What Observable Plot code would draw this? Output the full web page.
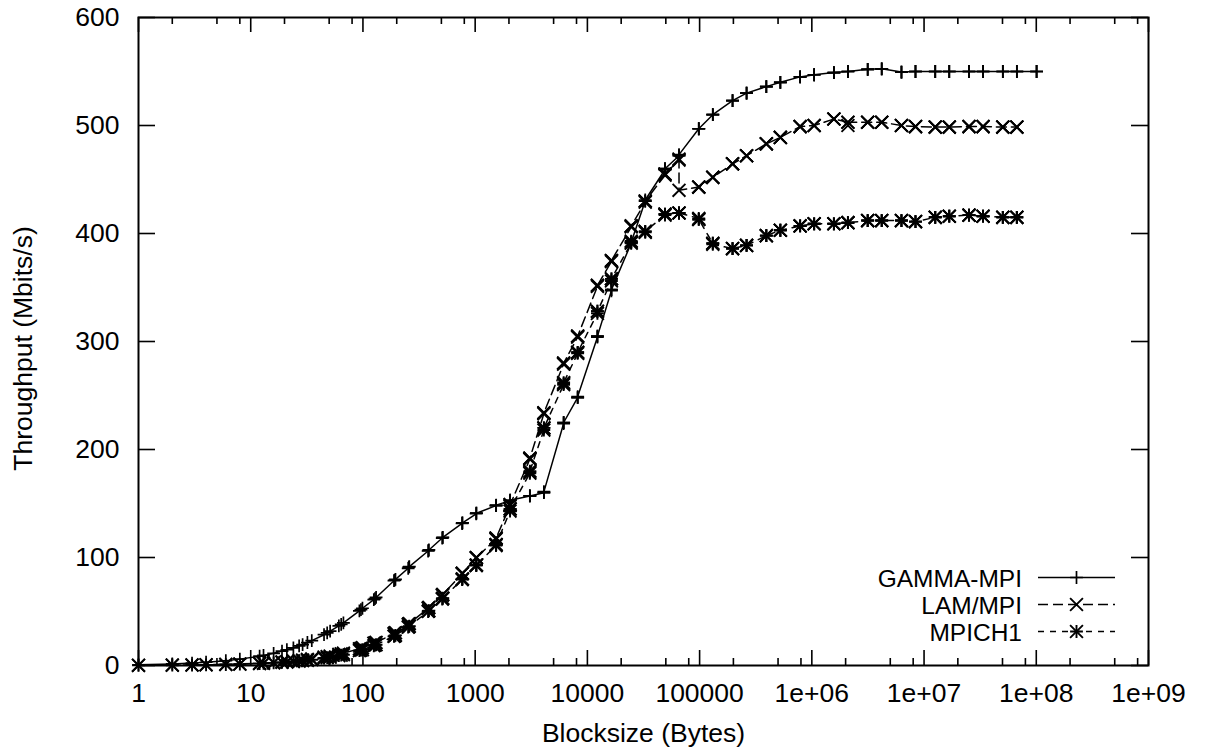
<!DOCTYPE html>
<html><head><meta charset="utf-8">
<script src="https://cdn.jsdelivr.net/npm/d3@7"></script>
<script src="https://cdn.jsdelivr.net/npm/@observablehq/plot@0.6"></script>
<style>
html,body{margin:0;padding:0;background:#fff;}
#chart svg{display:block;}
</style>
</head><body><div id="chart"></div>
<script>
// Block sizes (bytes), NetPIPE-style sequence
const blocksizes = [
  1, 2, 3, 4, 6, 8,
  12, 13, 16, 19, 21, 24, 27, 29, 32, 35,
  45, 48, 51, 61, 64, 67, 93, 96, 99,
  125, 128, 131, 189, 192, 195, 253, 256, 259,
  381, 384, 387, 509, 512, 515, 765, 768, 771,
  1021, 1024, 1027, 1533, 1536, 1539, 2045, 2048, 2051,
  3069, 3072, 3075, 4093, 4096, 4099, 6141, 6144, 6147,
  8189, 8192, 8195, 12285, 12288, 12291, 16381, 16384, 16387,
  24573, 24576, 24579, 32765, 32768, 32771, 49149, 49152, 49155,
  65533, 65536, 65539, 98301, 98304, 98307, 131069, 131072, 131075,
  196605, 196608, 196611, 262141, 262144, 262147, 393213, 393216, 393219,
  524285, 524288, 524291, 786429, 786432, 786435, 1048573, 1048576, 1048579,
  1572861, 1572864, 1572867, 2097149, 2097152, 2097155, 3145725, 3145728, 3145731,
  4194301, 4194304, 4194307, 6291453, 6291456, 6291459, 8388605, 8388608, 8388611,
  12582909, 12582912, 12582915, 16777213, 16777216, 16777219, 25165821, 25165824, 25165827,
  33554429, 33554432, 33554435, 50331645, 50331648, 50331651, 67108861, 67108864, 67108867,
  100663293, 100663296, 100663299
];

// Throughput (Mbits/s)
const gammaMPI = [
  0.7, 1.5, 2.2, 3, 4.4, 5.9,
  8.6, 9.3, 11.3, 13.3, 14.6, 16.4, 18.2, 19.4, 21.3, 23,
  28.5, 30.2, 31.8, 36.7, 38, 39.5, 50.5, 51.8, 53,
  61, 62, 63, 78.5, 79, 79.8, 90, 91, 91.5,
  106, 106.5, 107, 118, 118.5, 118.7, 131.5, 132, 132,
  140.5, 141, 141, 148, 148, 148.5, 152.5, 153, 153,
  157, 157, 157, 160, 160, 161, 224, 225, 225,
  248, 248, 249, 304, 305, 305, 347, 348, 348,
  391, 392, 392, 430, 430, 431, 459, 460, 460,
  472, 472, 473, 497, 497, 497, 510, 510, 510,
  523, 523, 523, 530, 530, 530, 536, 536, 536,
  540, 540, 540, 545, 545, 545, 547, 547, 547,
  549, 549, 549, 550, 550, 550, 552, 552, 552,
  552.5, 552.5, 552.5, 549.5, 549.5, 549.5, 550, 550, 550,
  550, 550, 550, 550, 550, 550, 550, 550, 550,
  550, 550, 550, 550, 550, 550, 550, 550, 550,
  550, 550, 550
];
const lamMPI = [
  0.2, 0.4, 0.5, 0.7, 1.1, 1.4,
  2.1, 2.3, 2.8, 3.3, 3.7, 4.2, 4.7, 5.1, 5.6, 6.1,
  7.8, 8.3, 8.8, 10.4, 10.9, 11.4, 15.5, 16, 16.5,
  20.5, 21, 21.4, 29.5, 30, 30.4, 38, 38.5, 38.9,
  53, 53.5, 53.8, 65, 65.5, 65.8, 85, 85.3, 85.5,
  99.5, 100, 100, 117, 118, 118, 148, 149, 149,
  191, 192, 192, 233, 234, 234, 279, 280, 280,
  304, 305, 305, 351, 352, 352, 374, 375, 375,
  406, 407, 407, 429, 430, 430, 454, 455, 455,
  468, 469, 440, 443, 443, 443, 452, 452, 452,
  464.5, 464.5, 464.5, 472, 472, 472, 483, 483, 483,
  489, 489, 489, 499, 499, 499, 500, 500, 500,
  506, 506, 506, 503, 500, 503, 503, 503, 503,
  503, 503, 503, 500, 500, 500, 499, 499, 499,
  498.5, 498.5, 498.5, 498.5, 498.5, 498.5, 499, 499, 499,
  499, 499, 499, 498.5, 498.5, 498.5, 498.5, 498.5, 498.5
];
const mpich1 = [
  0.15, 0.3, 0.4, 0.6, 0.9, 1.2,
  1.8, 2, 2.4, 2.9, 3.2, 3.6, 4.1, 4.4, 4.8, 5.3,
  6.8, 7.2, 7.7, 9.1, 9.6, 10, 13.8, 14.2, 14.6,
  18.3, 18.8, 19.2, 27, 27.5, 27.9, 35.5, 36, 36.4,
  50, 50.5, 50.8, 61.5, 62, 62.3, 79.5, 80, 80.2,
  92.5, 93, 93, 111, 112, 112, 143, 145, 145,
  178, 179, 180, 218, 220, 220, 260, 261, 262,
  289, 290, 290, 326, 328, 328, 356, 358, 358,
  391, 392, 393, 401, 402, 402, 417, 418, 418,
  419, 419, 419, 414, 413, 413, 391, 391, 390,
  386, 386, 386, 389, 389, 389, 398, 398, 398,
  403, 403, 403, 407, 407, 407, 409, 409, 409,
  409, 409, 409, 410, 410, 410, 412, 412, 412,
  412, 412, 412, 412, 412, 412, 411, 411, 411,
  415, 415, 415, 416, 416, 416, 417, 417, 417,
  416, 416, 416, 415, 415, 415, 415, 415, 415
];

const seriesNames = ["GAMMA-MPI", "LAM/MPI", "MPICH1"];
const xTickValues = [1, 10, 100, 1e3, 1e4, 1e5, 1e6, 1e7, 1e8, 1e9];
const xTickLabels = ["1", "10", "100", "1000", "10000", "100000", "1e+06", "1e+07", "1e+08", "1e+09"];
const xMinorTicks = [2, 5, 8, 20, 50, 80, 200, 500, 800, 2e3, 5e3, 8e3, 2e4, 5e4, 8e4,
  2e5, 5e5, 8e5, 2e6, 5e6, 8e6, 2e7, 5e7, 8e7, 2e8, 5e8, 8e8];
const yTickValues = [0, 100, 200, 300, 400, 500, 600];
const xLabel = "Blocksize (Bytes)";
const yLabel = "Throughput (Mbits/s)";

const W = 1206, H = 753, mL = 138, mR = 58, mT = 17, mB = 88;
const fw = W - mL - mR, fh = H - mT - mB;
const font = "'Liberation Sans', Arial, Helvetica, sans-serif";
const fs = 26.5, keyFs = 24.5;

const toRows = (vals, name) => vals.map((v, i) => ({size: blocksizes[i], value: v, series: name}));
const gamma = toRows(gammaMPI, seriesNames[0]);
const lam = toRows(lamMPI, seriesNames[1]);
const mpich = toRows(mpich1, seriesNames[2]);

const rPlus = 4.2, rTimes = 5.9;
const dashes = ["none", "10,5", "6,6"];

const plot = Plot.plot({
  width: W, height: H,
  marginLeft: mL, marginRight: mR, marginTop: mT, marginBottom: mB,
  style: {fontFamily: font, fontSize: fs + "px", color: "#000", background: "#fff", overflow: "visible"},
  x: {type: "log", domain: [1, 1e9], label: null},
  y: {domain: [0, 600], label: null},
  marks: [
    Plot.axisX({ticks: xTickValues, tickFormat: d => xTickLabels[xTickValues.indexOf(d)], tickSize: 0, tickPadding: 18, label: null, fontSize: fs}),
    Plot.axisY({ticks: yTickValues, tickSize: 0, tickPadding: 19, label: null, fontSize: fs}),
    Plot.tickX(xTickValues, {x: d => d, insetTop: fh - 15, stroke: "#000", strokeWidth: 1.6}),
    Plot.tickX(xTickValues, {x: d => d, insetBottom: fh - 15, stroke: "#000", strokeWidth: 1.6}),
    Plot.tickX(xMinorTicks, {x: d => d, insetTop: fh - 7, stroke: "#000", strokeWidth: 1.6}),
    Plot.tickX(xMinorTicks, {x: d => d, insetBottom: fh - 7, stroke: "#000", strokeWidth: 1.6}),
    Plot.tickY(yTickValues, {y: d => d, insetRight: fw - 17, stroke: "#000", strokeWidth: 1.6}),
    Plot.tickY(yTickValues, {y: d => d, insetLeft: fw - 17, stroke: "#000", strokeWidth: 1.6}),
    Plot.line(gamma, {x: "size", y: "value", stroke: "#000", strokeWidth: 1.5}),
    Plot.line(lam, {x: "size", y: "value", stroke: "#000", strokeWidth: 1.5, strokeDasharray: dashes[1]}),
    Plot.line(mpich, {x: "size", y: "value", stroke: "#000", strokeWidth: 1.5, strokeDasharray: dashes[2]}),
    Plot.dot(gamma, {x: "size", y: "value", symbol: "plus", r: rPlus, stroke: "#000", strokeWidth: 1.7}),
    Plot.dot(lam, {x: "size", y: "value", symbol: "times", r: rTimes, stroke: "#000", strokeWidth: 1.9}),
    Plot.dot(mpich, {x: "size", y: "value", symbol: "plus", r: rPlus, stroke: "#000", strokeWidth: 1.9}),
    Plot.dot(mpich, {x: "size", y: "value", symbol: "times", r: rTimes, stroke: "#000", strokeWidth: 1.9}),
    Plot.frame({stroke: "#000", strokeWidth: 2}),
    Plot.text([xLabel], {text: d => d, frameAnchor: "bottom", dy: 58, lineAnchor: "top", fontSize: fs, fill: "#000"}),
    Plot.text([yLabel], {text: d => d, frameAnchor: "left", dx: -125, dy: 7, rotate: -90, textAnchor: "middle", lineAnchor: "top", fontSize: fs, fill: "#000"})
  ]
});

// Key (inside plot, bottom right)
const svg = d3.select(plot);
const key = svg.append("g").attr("font-family", font).attr("font-size", keyFs).attr("fill", "#000");
const frameRight = W - mR, frameBottom = H - mB;
const symbolsFor = [[d3.symbolPlus], [d3.symbolTimes], [d3.symbolPlus, d3.symbolTimes]];
const radiusFor = s => (s === d3.symbolPlus ? rPlus : rTimes);
seriesNames.forEach((name, i) => {
  const cy = frameBottom - 87.5 + i * 27;
  key.append("text").attr("x", frameRight - 126).attr("y", cy + 9).attr("text-anchor", "end").text(name);
  key.append("line").attr("x1", frameRight - 110).attr("x2", frameRight - 33).attr("y1", cy).attr("y2", cy)
    .attr("stroke", "#000").attr("stroke-width", 1.5).attr("stroke-dasharray", dashes[i]);
  symbolsFor[i].forEach(s => {
    key.append("path").attr("transform", `translate(${frameRight - 71.5},${cy})`)
      .attr("d", d3.symbol(s, Math.PI * radiusFor(s) ** 2)())
      .attr("fill", "none").attr("stroke", "#000").attr("stroke-width", i === 0 ? 1.7 : 1.9);
  });
});

document.getElementById("chart").appendChild(plot);
</script>
</body></html>
